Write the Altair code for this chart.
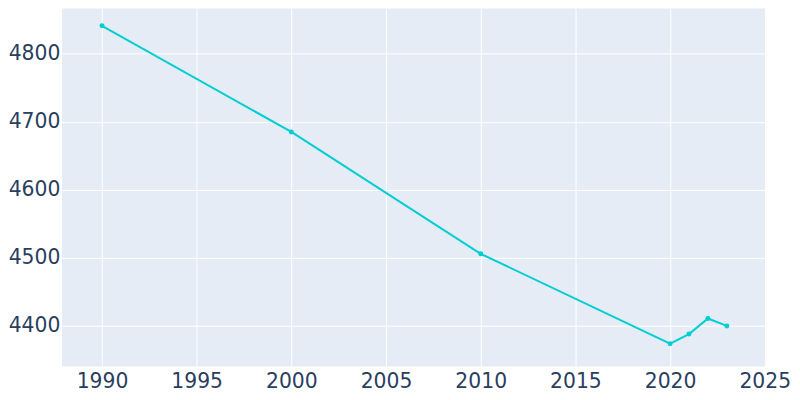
import altair as alt
import pandas as pd

years = [1990, 2000, 2010, 2020, 2021, 2022, 2023]
population = [4841, 4685, 4506, 4374, 4388, 4411, 4400]

df = pd.DataFrame({"year": years, "population": population})

x = alt.X("year:Q",
          scale=alt.Scale(domain=[1987.88, 2025.07], nice=False, zero=False),
          axis=alt.Axis(values=[1990, 1995, 2000, 2005, 2010, 2015, 2020, 2025],
                        format="d", title=None, grid=True, gridColor="white",
                        gridWidth=1, domain=False, ticks=False, labelPadding=5,
                        labelFontSize=20.4, labelColor="#2a3f5f", labelFont="DejaVu Sans",
                        labelFlush=False))
y = alt.Y("population:Q",
          scale=alt.Scale(domain=[4340.3, 4866.4], nice=False, zero=False),
          axis=alt.Axis(values=[4400, 4500, 4600, 4700, 4800], format="d", title=None,
                        grid=True, gridColor="white", gridWidth=1, domain=False,
                        ticks=False, labelPadding=2, labelFontSize=20.4,
                        labelColor="#2a3f5f", labelFont="DejaVu Sans"))

line = alt.Chart(df).mark_line(color="#00CED1", strokeWidth=2).encode(x=x, y=y)
pts = alt.Chart(df).mark_point(color="#00CED1", filled=True, size=25, opacity=1).encode(x=x, y=y)

chart = (line + pts).properties(
    width=706, height=359,
    autosize=alt.AutoSizeParams(type="none"),
    padding={"left": 54, "top": 0, "right": 26, "bottom": 30},
).configure(
    background="white",
    view=alt.ViewConfig(fill="#e5ecf6", stroke=None),
)

chart.save("out.html", embed_options={"renderer": "svg", "actions": False})
